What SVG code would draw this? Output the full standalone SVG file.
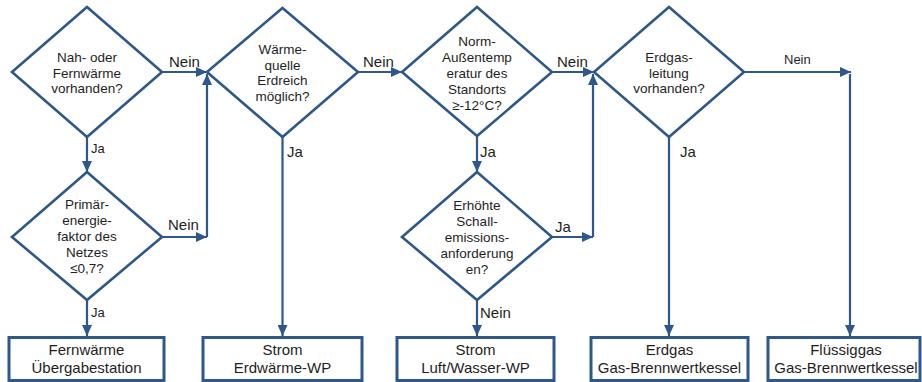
<svg xmlns="http://www.w3.org/2000/svg" width="922" height="382" viewBox="0 0 922 382">
<defs>
<marker id="arr" viewBox="0 0 10 10" refX="10" refY="5" markerWidth="11" markerHeight="10" markerUnits="userSpaceOnUse" orient="auto" preserveAspectRatio="none">
<path d="M0,0 L10,5 L0,10 z" fill="#2D5889"/>
</marker>
<style>
.dia{fill:#fff;stroke:#2D5889;stroke-width:2.6;stroke-linejoin:miter}
.box{fill:#fff;stroke:#2D5889;stroke-width:3}
.con{fill:none;stroke:#2D5889;stroke-width:2.2}
.arr{marker-end:url(#arr)}
.dt{font-family:"Liberation Sans",Arial,sans-serif;font-size:13.5px;fill:#1e1e1e;text-anchor:middle}
.bt{font-family:"Liberation Sans",Arial,sans-serif;font-size:15px;fill:#1e1e1e;text-anchor:middle}
.lb{font-family:"Liberation Sans",Arial,sans-serif;font-size:15px;fill:#1e1e1e}
.ls{font-family:"Liberation Sans",Arial,sans-serif;font-size:13px;fill:#1e1e1e}
</style>
</defs>
<rect width="922" height="382" fill="#fff"/>

<g id="connectors">
<path class="con arr" d="M162 72 H207"/>
<path class="con arr" d="M87 137 V172"/>
<path class="con arr" d="M162 237 H207"/>
<path class="con arr" d="M207 237 V74"/>
<path class="con arr" d="M87 300 V336"/>
<path class="con arr" d="M358 72 H402"/>
<path class="con arr" d="M282.5 137 V336"/>
<path class="con arr" d="M477 137 V172"/>
<path class="con arr" d="M552 72 H594"/>
<path class="con arr" d="M552 237 H593"/>
<path class="con arr" d="M593 237 V74"/>
<path class="con arr" d="M477 300 V336"/>
<path class="con arr" d="M744 72 H851"/>
<path class="con arr" d="M850 74 V336"/>
<path class="con arr" d="M669 137 V336"/>
<text class="lb" x="169" y="67">Nein</text>
<text class="ls" x="91" y="153">Ja</text>
<text class="lb" x="168" y="230">Nein</text>
<text class="ls" x="91" y="317">Ja</text>
<text class="lb" x="363" y="67">Nein</text>
<text class="lb" x="287" y="157">Ja</text>
<text class="lb" x="557" y="67">Nein</text>
<text class="lb" x="480" y="157">Ja</text>
<text class="lb" x="555" y="232">Ja</text>
<text class="lb" x="480" y="318">Nein</text>
<text class="ls" x="784" y="64">Nein</text>
<text class="lb" x="680" y="157">Ja</text>
</g>

<g id="d1">
<polygon class="dia" points="87,7 162,72 87,137 12,72"/>
<text class="dt" x="87" y="62">Nah- oder</text>
<text class="dt" x="87" y="77.5">Fernwärme</text>
<text class="dt" x="87" y="93">vorhanden?</text>
</g>

<g id="d2">
<polygon class="dia" points="87,172 162,237 87,300 12,237"/>
<text class="dt" x="87" y="209">Primär-</text>
<text class="dt" x="87" y="225">energie-</text>
<text class="dt" x="87" y="241">faktor des</text>
<text class="dt" x="87" y="257">Netzes</text>
<text class="dt" x="87" y="273">≤0,7?</text>
</g>

<g id="d3">
<polygon class="dia" points="282.5,8 358,72 282.5,137 207,72"/>
<text class="dt" x="282.5" y="54">Wärme-</text>
<text class="dt" x="282.5" y="69.5">quelle</text>
<text class="dt" x="282.5" y="85">Erdreich</text>
<text class="dt" x="282.5" y="100.5">möglich?</text>
</g>

<g id="d4">
<polygon class="dia" points="477,7 552,72 477,136 402,72"/>
<text class="dt" x="477" y="46">Norm-</text>
<text class="dt" x="477" y="62">Außentemp</text>
<text class="dt" x="477" y="78">eratur des</text>
<text class="dt" x="477" y="94">Standorts</text>
<text class="dt" x="477" y="110">≥-12°C?</text>
</g>

<g id="d5">
<polygon class="dia" points="477,172 552,237 477,300 402,237"/>
<text class="dt" x="477" y="210">Erhöhte</text>
<text class="dt" x="477" y="226">Schall-</text>
<text class="dt" x="477" y="242">emissions-</text>
<text class="dt" x="477" y="258">anforderung</text>
<text class="dt" x="477" y="274">en?</text>
</g>

<g id="d6">
<polygon class="dia" points="669,7 744,72 669,137 594,72"/>
<text class="dt" x="669" y="62">Erdgas-</text>
<text class="dt" x="669" y="77.5">leitung</text>
<text class="dt" x="669" y="93">vorhanden?</text>
</g>

<g id="b1">
<rect class="box" x="9" y="337.5" width="155" height="43"/>
<text class="bt" x="86.5" y="355">Fernwärme</text>
<text class="bt" x="86.5" y="373">Übergabestation</text>
</g>
<g id="b2">
<rect class="box" x="203" y="337.5" width="159" height="43"/>
<text class="bt" x="282.5" y="355">Strom</text>
<text class="bt" x="282.5" y="373">Erdwärme-WP</text>
</g>
<g id="b3">
<rect class="box" x="397" y="337.5" width="157" height="43"/>
<text class="bt" x="475.5" y="355">Strom</text>
<text class="bt" x="475.5" y="373">Luft/Wasser-WP</text>
</g>
<g id="b4">
<rect class="box" x="591" y="337.5" width="157" height="43"/>
<text class="bt" x="669.5" y="355">Erdgas</text>
<text class="bt" x="669.5" y="373">Gas-Brennwertkessel</text>
</g>
<g id="b5">
<rect class="box" x="768" y="337.5" width="152" height="43"/>
<text class="bt" x="846" y="355">Flüssiggas</text>
<text class="bt" x="846" y="373">Gas-Brennwertkessel</text>
</g>
</svg>
